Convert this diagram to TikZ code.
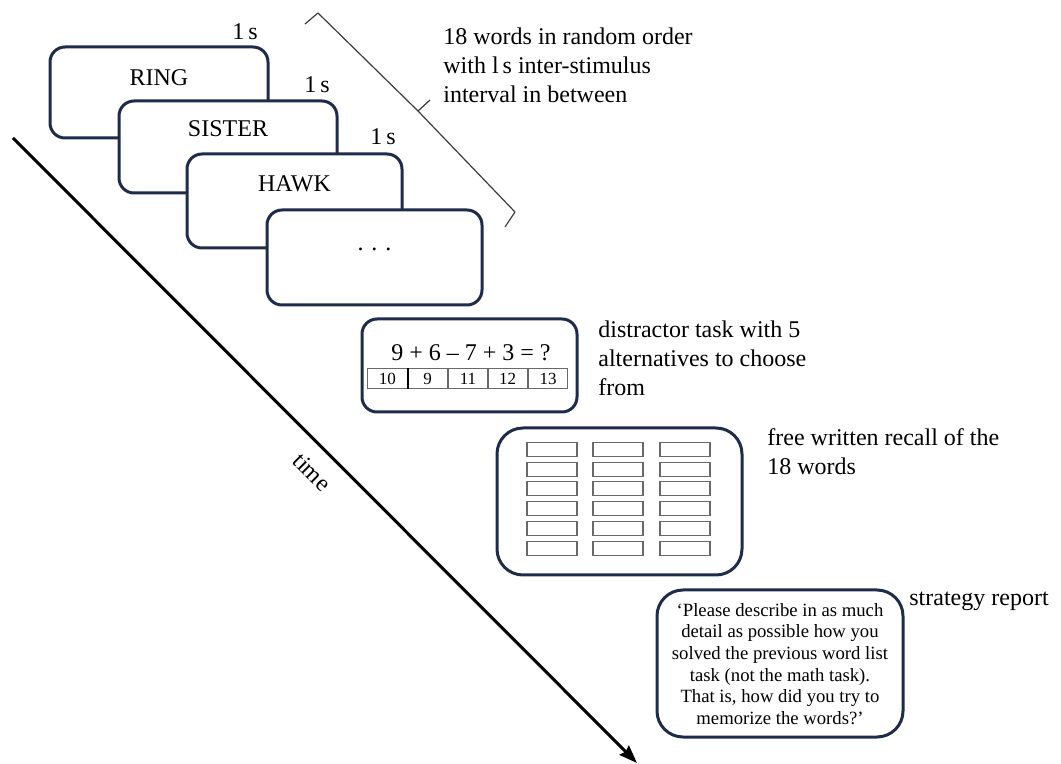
\documentclass[tikz,border=0pt]{standalone}
\usepackage{fontspec}
\setmainfont{Liberation Serif}
\usetikzlibrary{arrows.meta}
\definecolor{cardline}{RGB}{30,44,74}
\definecolor{cellline}{RGB}{105,105,105}
\definecolor{braceline}{RGB}{60,60,60}
\begin{document}
\begin{tikzpicture}[x=0.5pt,y=-0.5pt,
  card/.style={draw=cardline, line width=1.5pt, fill=white, rounded corners=7.5pt, inner sep=0pt},
  bigcard/.style={card, rounded corners=13pt},
  word/.style={font=\fontsize{12}{14.5}\selectfont, anchor=base, inner sep=0pt},
  note/.style={font=\fontsize{12}{14.5}\selectfont, align=left, anchor=north west, inner sep=0pt},
  answer/.style={draw=cellline, line width=0.5pt, minimum width=19.5pt, minimum height=10pt, inner sep=0pt, font=\fontsize{8.5}{10}\selectfont},
  cell/.style={draw=cellline, line width=0.55pt, minimum width=25pt, minimum height=7pt, inner sep=0pt},
  bracestroke/.style={draw=braceline, line width=0.6pt, line join=round}]
\useasboundingbox (0,0) rectangle (1061,764);

% time axis
\coordinate (t0) at (13,138);
\coordinate (t1) at (637,763);
\draw[line width=1.5pt, -{Stealth[length=9pt,width=6.5pt,inset=1pt]}] (t0) -- (t1);
\node[font=\fontsize{12}{14.5}\selectfont, rotate=-45, inner sep=0pt] (timelabel) at (312,472) {time};

% word cards, each drawn over the previous one
\node[card, minimum width=109pt, minimum height=45.5pt] (ring) at (159,92.5) {};
\node[word] (ringtext) at (159,86) {RING};
\node[word] (d1) at (245,40) {1\,s};

\node[card, minimum width=109pt, minimum height=46pt] (sister) at (228,147) {};
\node[word] (sistertext) at (228,137) {SISTER};
\node[word] (d2) at (317,92.5) {1\,s};

\node[card, minimum width=107.5pt, minimum height=47pt] (hawk) at (294.5,201) {};
\node[word] (hawktext) at (294.5,192) {HAWK};
\node[word] (d3) at (383,145) {1\,s};

\node[card, minimum width=107.5pt, minimum height=47.5pt] (more) at (374.5,257.5) {};
\node[word] (moretext) at (374.5,251) {.\,\,.\,\,.};

% brace over the word sequence
\coordinate (b1) at (305,24);
\coordinate (b2) at (318,13);
\coordinate (bm) at (418,111);
\coordinate (bt) at (430,100);
\coordinate (b3) at (515,212);
\coordinate (b4) at (505,227);
\draw[bracestroke] (b1) -- (b2) -- (bm) -- (bt) (bm) -- (b3) -- (b4);
\node[note] (wordsnote) at (443,27.5) {18 words in random order\\with l\,s inter-stimulus\\interval in between};

% distractor task
\node[card, minimum width=107.5pt, minimum height=46.5pt] (distract) at (469.5,365.5) {};
\node[word] (equation) at (471,360.5) {9 + 6 – 7 + 3 = ?};
\node[answer, minimum width=20.25pt] (a1) at (387.25,379) {10};
\node[answer] (a2) at (427.5,379) {9};
\draw[line width=0.7pt] (a1.north east) -- (a1.south east);
\node[answer] (a3) at (468,379) {11};
\node[answer] (a4) at (507.5,379) {12};
\node[answer] (a5) at (548,379) {13};
\node[note] (distractnote) at (598,320) {distractor task with 5\\alternatives to choose\\from};

% free recall sheet
\node[bigcard, minimum width=122.5pt, minimum height=73.5pt] (recall) at (619.5,501.5) {};
\foreach \c/\x in {1/552,2/618,3/685}{
  \foreach \r in {0,...,5}{
    \node[cell] (cell-\c-\r) at (\x,{449.3+19.8*\r}) {};
  }
}
\node[note] (recallnote) at (767,428.5) {free written recall of the\\18 words};

% strategy report
\node[bigcard, minimum width=123pt, minimum height=73.5pt] (report) at (780,663.5) {};
\node[font=\fontsize{9.35}{10.8}\selectfont, align=center, anchor=north, inner sep=0pt] (reporttext) at (780,603) {‘Please describe in as much\\detail as possible how you\\solved the previous word list\\task (not the math task).\\That is, how did you try to\\memorize the words?’};
\node[word, anchor=base west] (reportnote) at (909,605.5) {strategy report};
\end{tikzpicture}
\end{document}
